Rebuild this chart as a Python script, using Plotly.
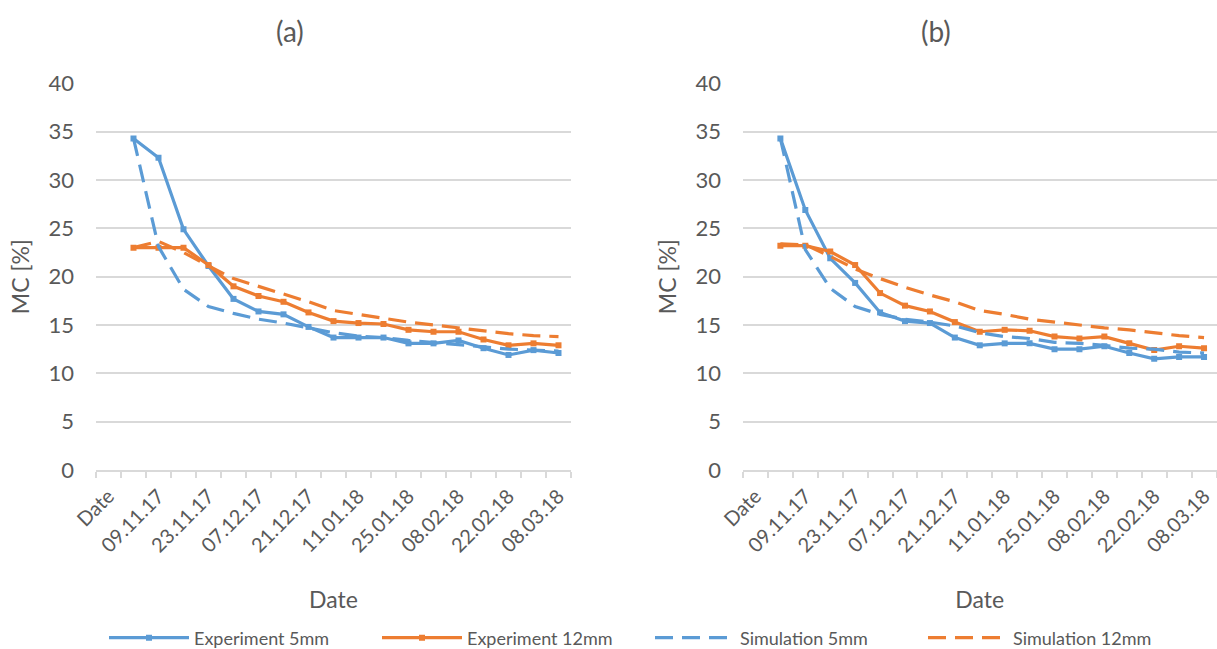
import plotly.graph_objects as go

# ---------------- data ----------------
tick_labels = ["Date", "09.11.17", "23.11.17", "07.12.17", "21.12.17",
               "11.01.18", "25.01.18", "08.02.18", "22.02.18", "08.03.18"]
n_categories = 19                      # "Date" header + 18 measurement dates
measure_index = list(range(1, 19))     # category index of each measurement

# panel (a)
a_exp_5mm = [34.3, 32.3, 24.9, 21.1, 17.7, 16.4, 16.1, 14.8, 13.7, 13.7,
             13.7, 13.1, 13.1, 13.4, 12.6, 11.9, 12.4, 12.1]
a_exp_12mm = [23.0, 23.0, 23.0, 21.2, 19.0, 18.0, 17.4, 16.3, 15.4, 15.2,
              15.1, 14.5, 14.3, 14.3, 13.5, 12.9, 13.1, 12.9]
a_sim_5mm = [34.3, 23.1, 18.7, 16.9, 16.2, 15.6, 15.2, 14.7, 14.2, 13.85,
             13.7, 13.4, 13.2, 13.0, 12.75, 12.5, 12.4, 12.3]
a_sim_12mm = [23.0, 23.65, 22.5, 21.1, 19.8, 19.0, 18.25, 17.4, 16.5, 16.1,
              15.7, 15.3, 15.0, 14.7, 14.4, 14.1, 13.9, 13.8]

# panel (b)
b_exp_5mm = [34.3, 26.9, 21.9, 19.35, 16.3, 15.4, 15.2, 13.7, 12.9, 13.1,
             13.1, 12.5, 12.5, 12.8, 12.1, 11.5, 11.7, 11.7]
b_exp_12mm = [23.2, 23.2, 22.6, 21.2, 18.3, 17.0, 16.4, 15.3, 14.3, 14.5,
              14.4, 13.8, 13.6, 13.8, 13.1, 12.4, 12.8, 12.6]
b_sim_5mm = [34.3, 22.8, 18.8, 16.9, 16.1, 15.6, 15.3, 14.9, 14.2, 13.8,
             13.6, 13.2, 13.1, 12.9, 12.6, 12.5, 12.2, 12.1]
b_sim_12mm = [23.4, 23.3, 22.1, 20.8, 19.8, 18.9, 18.1, 17.4, 16.5, 16.1,
              15.6, 15.3, 15.0, 14.7, 14.5, 14.2, 13.9, 13.7]

series_names = ["Experiment 5mm", "Experiment 12mm", "Simulation 5mm", "Simulation 12mm"]

# ---------------- styling ----------------
BLUE = "#5B9BD5"
ORANGE = "#ED7D31"
TXT = "#595959"
GRID = "#D9D9D9"
FONT = "Lato"

W, H = 1217, 649

fig = go.Figure()

panels = [
    ("x", "y", [a_exp_5mm, a_exp_12mm, a_sim_5mm, a_sim_12mm], True),
    ("x2", "y2", [b_exp_5mm, b_exp_12mm, b_sim_5mm, b_sim_12mm], False),
]
styles = [
    dict(color=BLUE, dash="solid", marker=True),
    dict(color=ORANGE, dash="solid", marker=True),
    dict(color=BLUE, dash="18px,9px", marker=False),
    dict(color=ORANGE, dash="18px,9px", marker=False),
]

for xa, ya, series, show in panels:
    for name, vals, st in zip(series_names, series, styles):
        fig.add_trace(go.Scatter(
            x=measure_index, y=vals, name=name,
            xaxis=xa, yaxis=ya,
            mode="lines+markers" if st["marker"] else "lines",
            line=dict(color=st["color"], width=3.2, dash=st["dash"]),
            marker=dict(symbol="square", size=6, color=st["color"]),
            showlegend=show, legendgroup=name,
        ))

boundaries = [i - 0.5 for i in range(n_categories + 1)]
label_pos = list(range(0, n_categories, 2))

def xaxis_cfg(domain, anchor):
    return dict(
        domain=domain, anchor=anchor,
        range=[-0.5, n_categories - 0.5],
        tickmode="array", tickvals=label_pos, ticktext=tick_labels,
        tickangle=-45, ticks="", showgrid=False, zeroline=False,
        showline=True, linecolor=GRID, linewidth=1.5,
        tickfont=dict(family=FONT, size=20, color=TXT),
        ticklabelstandoff=5, automargin=False,
        minor=dict(tickmode="array", tickvals=boundaries, ticks="outside",
                   ticklen=6, tickwidth=1.5, tickcolor=GRID, showgrid=False),
        title=dict(text="Date", font=dict(family=FONT, size=23, color=TXT), standoff=36),
    )

def yaxis_cfg(anchor):
    return dict(
        domain=[(H - 470) / H, (H - 83.3) / H], anchor=anchor,
        range=[0, 40], dtick=5, tick0=0,
        showgrid=True, gridcolor=GRID, gridwidth=1.5,
        zeroline=False, showline=False, ticks="",
        tickfont=dict(family=FONT, size=22, color=TXT),
        ticklabelstandoff=21, automargin=False,
        title=dict(text="MC [%]", font=dict(family=FONT, size=23, color=TXT), standoff=12),
    )

fig.update_layout(
    width=W, height=H,
    margin=dict(l=0, r=0, t=0, b=0, autoexpand=False),
    paper_bgcolor="white", plot_bgcolor="white",
    font=dict(family=FONT, color=TXT),
    xaxis=xaxis_cfg([96 / W, 571 / W], "y"),
    yaxis=yaxis_cfg("x"),
    xaxis2=xaxis_cfg([743 / W, 1216.5 / W], "y2"),
    yaxis2=yaxis_cfg("x2"),
    legend=dict(orientation="h", xref="container", yref="container",
                x=104 / W, xanchor="left", y=(H - 638) / H, yanchor="middle",
                font=dict(family=FONT, size=18, color=TXT),
                entrywidth=178, entrywidthmode="pixels", itemwidth=80,
                bgcolor="rgba(0,0,0,0)"),
    annotations=[
        dict(text="(a)", x=290 / W, y=(H - 31) / H, xref="paper", yref="paper",
             showarrow=False, font=dict(family=FONT, size=28, color=TXT),
             xanchor="center", yanchor="middle"),
        dict(text="(b)", x=936 / W, y=(H - 31) / H, xref="paper", yref="paper",
             showarrow=False, font=dict(family=FONT, size=28, color=TXT),
             xanchor="center", yanchor="middle"),
    ],
)

fig.write_html("out.html")
